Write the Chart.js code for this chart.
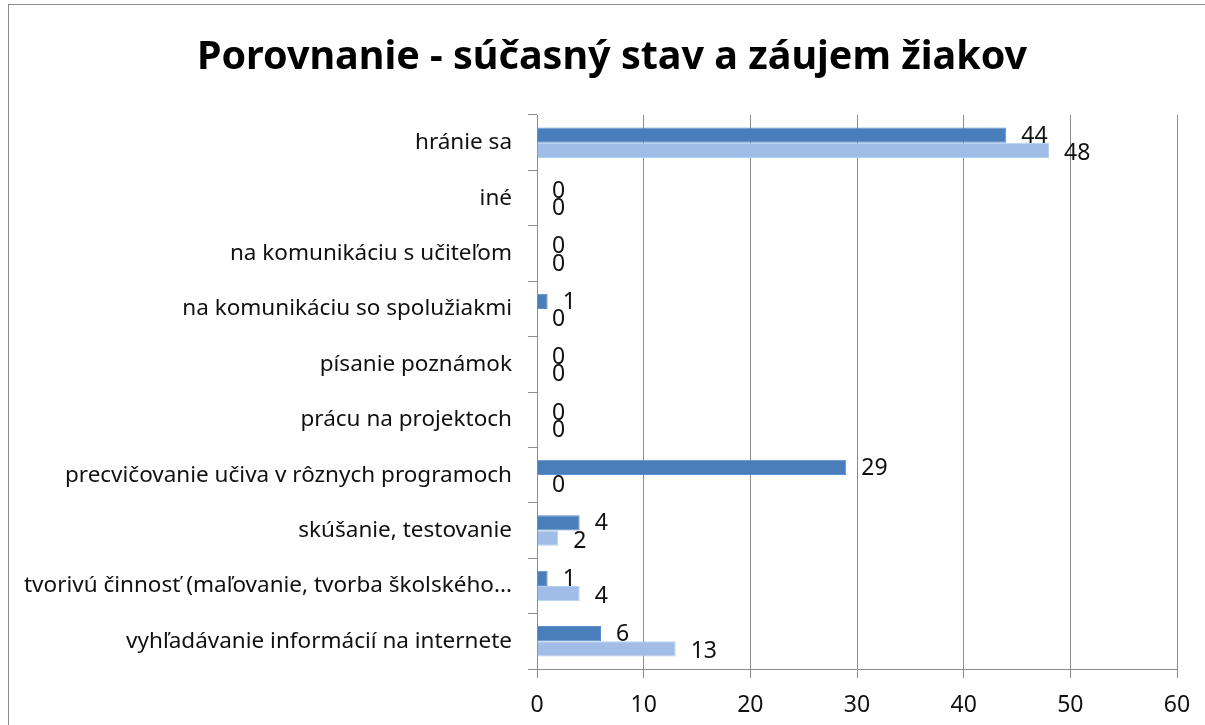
<!DOCTYPE html>
<html>
<head>
<meta charset="utf-8">
<script src="https://cdn.jsdelivr.net/npm/chart.js@4.4.1/dist/chart.umd.min.js"></script>
<style>
  html, body { margin: 0; padding: 0; background: #fff; }
  #wrap { width: 1205px; height: 725px; position: relative; }
</style>
</head>
<body>
<div id="wrap"><canvas id="graf"></canvas></div>
<script>
// kategórie zhora nadol
var kategorie = [
    'hránie sa',
    'iné',
    'na komunikáciu s učiteľom',
    'na komunikáciu so spolužiakmi',
    'písanie poznámok',
    'prácu na projektoch',
    'precvičovanie učiva v rôznych programoch',
    'skúšanie, testovanie',
    'tvorivú činnosť (maľovanie, tvorba školského...',
    'vyhľadávanie informácií na internete'
];
// súčasný stav (tmavé stĺpce)
var sucasnyStav = [44, 0, 0, 1, 0, 0, 29, 4, 1, 6];
// záujem žiakov (svetlé stĺpce)
var zaujemZiakov = [48, 0, 0, 0, 0, 0, 0, 2, 4, 13];
var osX = [0, 10, 20, 30, 40, 50, 60];
var nadpis = 'Porovnanie - súčasný stav a záujem žiakov';

var pismo = "'Noto Sans', 'DejaVu Sans', sans-serif";

// biele pozadie, rámik a nadpis
var pozadie = {
    id: 'pozadie',
    beforeDraw: function (chart) {
        var ctx = chart.ctx;
        ctx.save();
        ctx.fillStyle = '#fff';
        ctx.fillRect(0, 0, chart.width, chart.height);
        ctx.strokeStyle = '#8c8c8c';
        ctx.lineWidth = 1;
        ctx.strokeRect(8.5, 4.5, chart.width + 20, chart.height + 20);
        ctx.fillStyle = '#000';
        ctx.font = 'bold 39.5px ' + pismo;
        ctx.textAlign = 'center';
        ctx.textBaseline = 'middle';
        ctx.fillText(nadpis, 612, 58);
        ctx.restore();
    }
};

// hodnoty vedľa stĺpcov
var hodnoty = {
    id: 'hodnoty',
    afterDatasetsDraw: function (chart) {
        var ctx = chart.ctx;
        ctx.save();
        ctx.font = '23px ' + pismo;
        ctx.fillStyle = '#111';
        ctx.textAlign = 'left';
        ctx.textBaseline = 'middle';
        chart.data.datasets.forEach(function (ds, i) {
            var meta = chart.getDatasetMeta(i);
            meta.data.forEach(function (bar, j) {
                var posun = i === 0 ? 1 : 3;
                ctx.fillText(String(ds.data[j]), bar.x + 15, bar.y + posun);
            });
        });
        ctx.restore();
    }
};

new Chart(document.getElementById('graf'), {
    type: 'bar',
    data: {
        labels: kategorie,
        datasets: [
            {
                label: 'súčasný stav',
                data: sucasnyStav,
                backgroundColor: '#4a7ebb',
                borderColor: '#5b8fcc',
                borderWidth: 1,
                barPercentage: 1,
                categoryPercentage: 0.55
            },
            {
                label: 'záujem žiakov',
                data: zaujemZiakov,
                backgroundColor: '#9fbde6',
                borderColor: '#b6cfee',
                borderWidth: 1,
                barPercentage: 1,
                categoryPercentage: 0.55
            }
        ]
    },
    options: {
        indexAxis: 'y',
        responsive: true,
        maintainAspectRatio: false,
        animation: false,
        layout: { padding: { left: 0, right: 28, top: 115, bottom: 0 } },
        plugins: {
            legend: { display: false },
            tooltip: { enabled: false },
            title: { display: false }
        },
        scales: {
            x: {
                min: 0,
                max: 60,
                afterBuildTicks: function (axis) {
                    axis.ticks = osX.map(function (v) { return { value: v }; });
                },
                grid: { color: '#8c8c8c', tickLength: 9 },
                border: { color: '#8c8c8c' },
                ticks: { color: '#111', font: { family: pismo, size: 23 }, padding: 14 },
                afterFit: function (axis) { axis.height = 56; }
            },
            y: {
                grid: { drawOnChartArea: false, color: '#8c8c8c', tickLength: 9 },
                border: { color: '#8c8c8c' },
                ticks: { color: '#111', font: { family: pismo, size: 22.5 }, padding: 16, autoSkip: false },
                afterFit: function (axis) { axis.width = 537; }
            }
        }
    },
    plugins: [pozadie, hodnoty]
});
</script>
</body>
</html>
